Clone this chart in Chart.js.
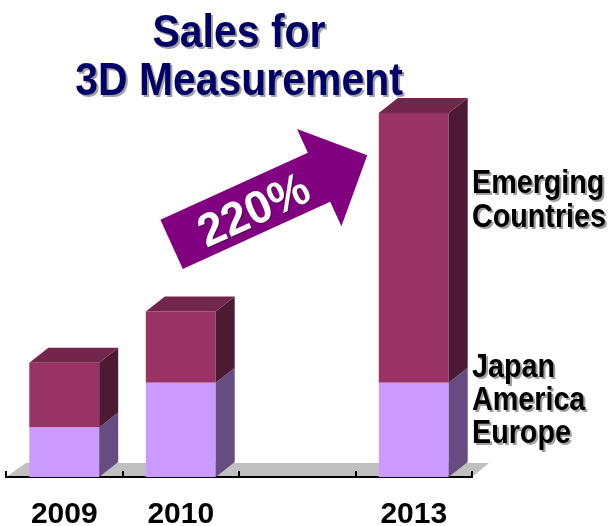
<!DOCTYPE html>
<html lang="en">
<head>
    <meta charset="utf-8">
    <script src="https://cdn.jsdelivr.net/npm/chart.js"></script>
    <title>Sales for 3D Measurement</title>
    <style>
        html, body { margin: 0; padding: 0; background: #fff; }
        #wrap { width: 615px; height: 526px; }
    </style>
</head>
<body>
<div id="wrap"><canvas id="salesChart" width="615" height="526"></canvas></div>

<script>
    // Sales per year, split by region (2010 = 100)
    const years = ['2009', '2010', '', '2013'];
    const japanAmericaEurope = [30, 57, null, 57];
    const emergingCountries = [39, 43, null, 163];
    const growthText = '220%';

    const titleLines = ['Sales for', '3D Measurement'];
    const upperLabel = ['Emerging', 'Countries'];
    const lowerLabel = ['Japan', 'America', 'Europe'];

    // depth of the fake 3D extrusion
    const DX = 19, DY = -15;

    function poly(ctx, pts, color) {
        ctx.fillStyle = color;
        ctx.beginPath();
        ctx.moveTo(pts[0][0], pts[0][1]);
        for (let i = 1; i < pts.length; i++) ctx.lineTo(pts[i][0], pts[i][1]);
        ctx.closePath();
        ctx.fill();
    }

    const bar3d = {
        id: 'bar3d',
        beforeDraw(chart) {
            const { ctx, chartArea: a } = chart;
            ctx.save();
            // grey floor
            poly(ctx, [[a.left, a.bottom], [a.left + DX + 1, a.bottom + DY + 1],
                       [a.right + DX - 2, a.bottom + DY + 1], [a.right, a.bottom]], '#c0c0c0');
            ctx.restore();
        },
        afterDatasetsDraw(chart) {
            const { ctx, chartArea: a } = chart;
            ctx.save();
            // small ticks between categories, pointing up
            const n = chart.data.labels.length;
            ctx.strokeStyle = '#000';
            ctx.lineWidth = 2;
            for (let i = 0; i <= n; i++) {
                const x = Math.round(a.left + i * (a.right - a.left) / n);
                ctx.beginPath();
                ctx.moveTo(x, a.bottom);
                ctx.lineTo(x, a.bottom - 6);
                ctx.stroke();
            }
            const last = chart.data.datasets.length - 1;
            chart.data.datasets.forEach((ds, i) => {
                const meta = chart.getDatasetMeta(i);
                meta.data.forEach((bar, j) => {
                    if (ds.data[j] == null) return;
                    const { x, y, base, width } = bar.getProps(['x', 'y', 'base', 'width'], true);
                    const l = x - width / 2, r = x + width / 2;
                    poly(ctx, [[r, y], [r + DX, y + DY], [r + DX, base + DY], [r, base]], ds.sideColor);
                    if (i === last) {
                        poly(ctx, [[l, y], [l + DX, y + DY], [r + DX, y + DY], [r, y]], ds.topColor);
                    }
                });
            });
            ctx.restore();
        },
        afterDraw(chart) {
            const { ctx } = chart;
            ctx.save();

            // title
            ctx.textAlign = 'center';
            ctx.textBaseline = 'alphabetic';
            ctx.font = 'bold 46px "Liberation Sans", Arial, sans-serif';
            ctx.shadowColor = 'rgba(120,120,120,0.7)';
            ctx.shadowOffsetX = 2;
            ctx.shadowOffsetY = 2;
            ctx.fillStyle = '#000066';
            [[titleLines[0], 47], [titleLines[1], 95]].forEach(([t, yb]) => {
                ctx.save();
                ctx.translate(239, yb);
                ctx.scale(0.89, 1);
                ctx.fillText(t, 0, 0);
                ctx.restore();
            });

            // region labels next to the 2013 bar
            ctx.textAlign = 'left';
            ctx.font = 'bold 33px "Liberation Sans", Arial, sans-serif';
            ctx.fillStyle = '#000';
            const side = (t, yb) => {
                ctx.save();
                ctx.translate(472, yb);
                ctx.scale(0.87, 1);
                ctx.fillText(t, 0, 0);
                ctx.restore();
            };
            upperLabel.forEach((t, k) => side(t, 193 + k * 34));
            lowerLabel.forEach((t, k) => side(t, 377 + k * 33));

            // growth arrow
            ctx.shadowColor = 'transparent';
            ctx.translate(172.5, 244);
            ctx.rotate(-24.5 * Math.PI / 180);
            poly(ctx, [[-1, -27], [161, -27], [161, -53], [214, 0], [161, 54], [161, 27], [-1, 27]], '#800080');
            ctx.fillStyle = '#fff';
            ctx.textAlign = 'center';
            ctx.textBaseline = 'middle';
            ctx.font = 'bold 46px "Liberation Sans", Arial, sans-serif';
            ctx.shadowColor = 'rgba(60,0,60,0.6)';
            ctx.shadowOffsetX = 1;
            ctx.shadowOffsetY = 1;
            ctx.fillText(growthText, 88, 5);

            ctx.restore();
        }
    };

    new Chart(document.getElementById('salesChart'), {
        type: 'bar',
        data: {
            labels: years,
            datasets: [{
                label: 'Japan America Europe',
                data: japanAmericaEurope,
                backgroundColor: '#cc99ff',
                sideColor: '#664c80',
                topColor: '#997fbf'
            }, {
                label: 'Emerging Countries',
                data: emergingCountries,
                backgroundColor: '#993366',
                sideColor: '#4d1a33',
                topColor: '#73264c'
            }]
        },
        options: {
            responsive: false,
            animation: false,
            layout: { padding: { left: 6, right: 143, top: 80, bottom: 0 } },
            plugins: {
                legend: { display: false },
                tooltip: { enabled: false }
            },
            datasets: {
                bar: { categoryPercentage: 1, barPercentage: 0.6 }
            },
            scales: {
                x: {
                    stacked: true,
                    grid: { display: false },
                    border: { display: true, color: '#000', width: 2 },
                    ticks: {
                        color: '#000',
                        padding: 12,
                        font: { family: '"Liberation Sans", Arial, sans-serif', size: 30, weight: 'bold' }
                    },
                    afterFit(scale) { scale.height = 49; }
                },
                y: {
                    stacked: true,
                    display: false,
                    min: 0,
                    max: 240
                }
            }
        },
        plugins: [bar3d]
    });
</script>
</body>
</html>
